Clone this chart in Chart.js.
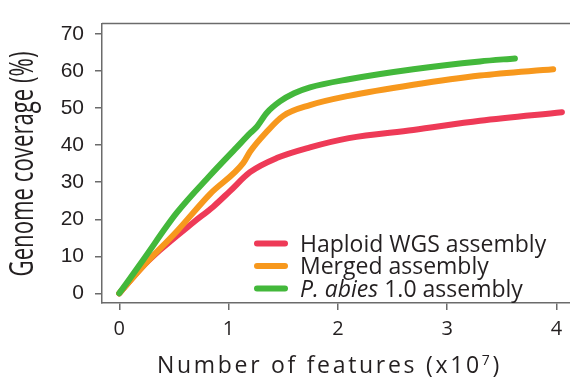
<!DOCTYPE html>
<html>
<head>
<meta charset="utf-8">
<script src="https://cdn.jsdelivr.net/npm/chart.js@4.4.1/dist/chart.umd.min.js"></script>
<style>
  html, body { margin: 0; padding: 0; background: #fff; }
  canvas { display: block; }
</style>
</head>
<body>
<canvas id="chart" width="570" height="380"></canvas>
<script>
// Genome coverage against number of features (in units of 10^7)
const seriesNames = ['Haploid WGS assembly', 'Merged assembly', 'P. abies 1.0 assembly'];
const seriesItalic = ['', '', 'P. abies'];
const seriesColors = ['#ee3a57', '#f7981d', '#43b83b'];

const haploidX = [0, 0.2, 0.37, 0.68, 0.86, 1.013, 1.196, 1.44, 1.745, 2.1, 2.69, 3.30, 4.05];
const haploidY = [0, 6.8, 11.6, 19.2, 23.4, 27.6, 32.7, 36.5, 39.4, 41.9, 44.1, 46.6, 48.9];

const mergedX = [0, 0.22, 0.525, 0.83, 1.135, 1.196, 1.349, 1.50, 1.745, 2.1, 2.69, 3.30, 3.97];
const mergedY = [0, 7.4, 16.7, 26.8, 35.2, 38.2, 43.6, 47.9, 50.8, 53.3, 56.3, 58.8, 60.5];

const abiesX = [0, 0.22, 0.525, 0.83, 1.074, 1.20, 1.257, 1.349, 1.47, 1.60, 1.745, 2.1, 2.69, 3.30, 3.62];
const abiesY = [0, 9.1, 21.7, 31.8, 39.4, 43.3, 44.9, 48.7, 51.8, 54.0, 55.6, 57.8, 60.5, 62.6, 63.4];

const xTicks = [0, 1, 2, 3, 4];
const yTicks = [0, 10, 20, 30, 40, 50, 60, 70];

const xTitle = 'Number of features (x10';
const xTitleSup = '7';
const yTitle = 'Genome coverage (%)';

const toPoints = (xs, ys) => xs.map((x, i) => ({ x: x, y: ys[i] }));
const seriesData = [toPoints(haploidX, haploidY), toPoints(mergedX, mergedY), toPoints(abiesX, abiesY)];

const AXIS_COLOR = '#6b6b6b';
const TEXT_COLOR = '#231f20';

// top frame line of the plot box
const topFrame = {
  id: 'topFrame',
  afterDraw(chart) {
    const { ctx, chartArea } = chart;
    ctx.save();
    ctx.strokeStyle = AXIS_COLOR;
    ctx.lineWidth = 1.5;
    ctx.beginPath();
    ctx.moveTo(chartArea.left, chartArea.top);
    ctx.lineTo(chartArea.right, chartArea.top);
    ctx.stroke();
    ctx.restore();
  }
};

// axis titles: condensed vertical title and a title with a superscript exponent
const axisTitles = {
  id: 'axisTitles',
  afterDraw(chart) {
    const { ctx } = chart;
    ctx.save();
    ctx.fillStyle = TEXT_COLOR;

    // y title
    ctx.font = '32px "Open Sans"';
    const yw = ctx.measureText(yTitle).width;
    const yLen = 225;
    ctx.translate(33, 164);
    ctx.rotate(-Math.PI / 2);
    ctx.scale(yLen / yw, 1);
    ctx.textAlign = 'center';
    ctx.textBaseline = 'alphabetic';
    ctx.fillText(yTitle, 0, 0);
    ctx.restore();

    // x title
    ctx.save();
    ctx.fillStyle = TEXT_COLOR;
    ctx.font = '23px "Open Sans"';
    ctx.letterSpacing = '2.7px';
    ctx.textAlign = 'left';
    ctx.textBaseline = 'alphabetic';
    let x = 157;
    const base = 372.5;
    ctx.fillText(xTitle, x, base);
    x += ctx.measureText(xTitle).width;
    ctx.font = '14px "Open Sans"';
    ctx.fillText(xTitleSup, x, base - 8);
    x += ctx.measureText(xTitleSup).width;
    ctx.font = '23px "Open Sans"';
    ctx.fillText(')', x, base);
    ctx.restore();
  }
};

// legend with line samples; genus name set in italics
const lineLegend = {
  id: 'lineLegend',
  afterDraw(chart) {
    const { ctx } = chart;
    const rowY = [243.5, 266, 288.5];
    ctx.save();
    chart.data.datasets.forEach((ds, i) => {
      const y = rowY[i];
      ctx.strokeStyle = ds.borderColor;
      ctx.lineWidth = 6;
      ctx.lineCap = 'round';
      ctx.beginPath();
      ctx.moveTo(257, y);
      ctx.lineTo(285, y);
      ctx.stroke();

      ctx.fillStyle = TEXT_COLOR;
      ctx.textBaseline = 'alphabetic';
      ctx.textAlign = 'left';
      let tx = 300;
      const base = y + 8;
      const it = seriesItalic[i];
      let rest = ds.label;
      if (it && rest.startsWith(it)) {
        ctx.font = 'italic 23px "Open Sans"';
        ctx.fillText(it, tx, base);
        tx += ctx.measureText(it).width;
        rest = rest.slice(it.length);
      }
      ctx.font = '23px "Open Sans"';
      ctx.fillText(rest, tx, base);
    });
    ctx.restore();
  }
};

new Chart(document.getElementById('chart'), {
  type: 'line',
  data: {
    datasets: seriesNames.map((name, i) => ({
      label: name,
      data: seriesData[i],
      borderColor: seriesColors[i],
      backgroundColor: seriesColors[i],
      borderWidth: 6,
      borderCapStyle: 'round',
      borderJoinStyle: 'round',
      pointRadius: 0,
      cubicInterpolationMode: 'monotone',
      fill: false,
      order: 2 - i
    }))
  },
  options: {
    responsive: false,
    animation: false,
    devicePixelRatio: 1,
    layout: { padding: { top: 4.5, right: 0, bottom: 0, left: 0 } },
    plugins: {
      legend: { display: false },
      tooltip: { enabled: false }
    },
    scales: {
      x: {
        type: 'linear',
        position: 'bottom',
        min: -0.158,
        max: 4.124,
        afterFit: s => { s.height = 77; },
        afterBuildTicks: s => { s.ticks = xTicks.map(v => ({ value: v })); },
        grid: { drawOnChartArea: false, drawTicks: true, tickLength: 7, color: AXIS_COLOR, lineWidth: 1.5 },
        border: { display: true, color: AXIS_COLOR, width: 1.5 },
        ticks: {
          font: { family: '"Open Sans"', size: 20 },
          color: TEXT_COLOR,
          padding: 7,
          maxRotation: 0,
          callback: v => String(v)
        }
      },
      y: {
        type: 'linear',
        min: -2.6,
        max: 72.8,
        afterFit: s => { s.width = 102; },
        afterBuildTicks: s => { s.ticks = yTicks.map(v => ({ value: v })); },
        grid: { drawOnChartArea: false, drawTicks: true, tickLength: 7, color: AXIS_COLOR, lineWidth: 1.5 },
        border: { display: true, color: AXIS_COLOR, width: 1.5 },
        ticks: {
          font: { family: '"Liberation Sans"', size: 21 },
          color: TEXT_COLOR,
          padding: 11,
          callback: v => String(v)
        }
      }
    }
  },
  plugins: [topFrame, axisTitles, lineLegend]
});
</script>
</body>
</html>
